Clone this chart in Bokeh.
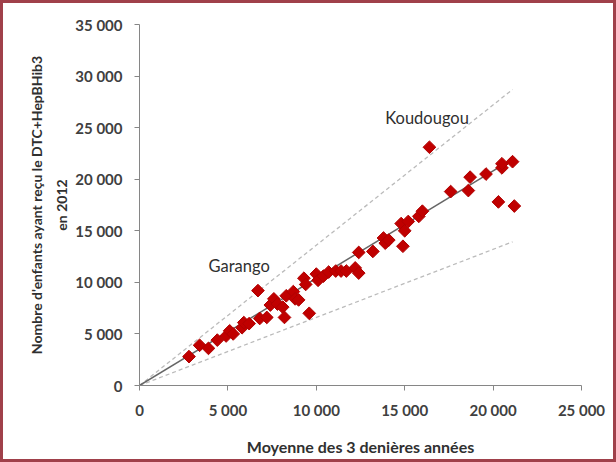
import math
from bokeh.plotting import figure
from bokeh.models import Range1d, FixedTicker, ColumnDataSource, Label
from bokeh.embed import file_html
from bokeh.resources import INLINE

# Data
moyenne = [2800, 3400, 3900, 4400, 4900, 5100, 5300, 5800, 5900, 6200, 6700, 6800,
           7200, 7400, 7600, 7800, 8100, 8200, 8300, 8700, 8800, 9000, 9300, 9400,
           9600, 10000, 10100, 10400, 10700, 11100, 11400, 11700, 12200, 12400, 12400,
           13200, 13800, 13900, 14100, 14800, 14900, 15000, 15200, 15800, 16000, 16400,
           17600, 18600, 18700, 19600, 20300, 20500, 20500, 21100, 21200]
recus_2012 = [2800, 3900, 3600, 4400, 4800, 5300, 5000, 5600, 6100, 6000, 9200, 6500,
              6600, 7800, 8400, 7900, 7600, 6600, 8700, 9100, 8400, 8300, 10400, 9800,
              7000, 10800, 10200, 10600, 11000, 11100, 11100, 11100, 11400, 10900, 12900,
              13000, 14300, 13800, 14100, 15700, 13500, 15000, 15900, 16400, 16900, 23100,
              18800, 18900, 20200, 20500, 17800, 21100, 21500, 21700, 17400]

line_x = [0, 21100]
slope_fit = 1.04
slope_upper = 1.36
slope_lower = 0.66

x_ticks = [0, 5000, 10000, 15000, 20000, 25000]
y_ticks = [0, 5000, 10000, 15000, 20000, 25000, 30000, 35000]

def fmt(v):
    return "{:,}".format(v).replace(",", " ")

FONT = "Lato"
TXT = "#404040"

p = figure(width=616, height=462, output_backend="svg", toolbar_location=None,
           x_range=Range1d(0, 25000), y_range=Range1d(0, 35000),
           min_border_left=136, min_border_right=38, min_border_top=21, min_border_bottom=80)
p.styles = {"border": "3px solid #a0404a"}
p.outline_line_color = None
p.grid.visible = False
p.background_fill_color = "white"
p.border_fill_color = "white"

p.line([line_x[0], line_x[1]], [slope_upper * line_x[0], slope_upper * line_x[1]],
       line_color="#bbbbbb", line_width=1.3, line_dash="4 3")
p.line([line_x[0], line_x[1]], [slope_lower * line_x[0], slope_lower * line_x[1]],
       line_color="#bbbbbb", line_width=1.3, line_dash="4 3")
p.line([line_x[0], line_x[1]], [slope_fit * line_x[0], slope_fit * line_x[1]],
       line_color="#666666", line_width=1.5)

src = ColumnDataSource(dict(x=moyenne, y=recus_2012))
p.scatter("x", "y", source=src, marker="square", size=9, angle=math.pi / 4,
          fill_color="#c00000", line_color="#b00000", line_width=1)

for ax in (p.xaxis[0], p.yaxis[0]):
    ax.axis_line_color = "#868686"
    ax.major_tick_line_color = "#868686"
    ax.major_tick_out = 5
    ax.major_tick_in = 0
    ax.minor_tick_line_color = None
    ax.major_label_text_font = FONT
    ax.major_label_text_font_style = "bold"
    ax.major_label_text_font_size = "15px"
    ax.major_label_text_color = TXT
    ax.axis_label_text_font = FONT
    ax.axis_label_text_font_style = "bold"
    ax.axis_label_text_color = "#303030"

p.xaxis[0].axis_label_text_font_size = "16px"
p.yaxis[0].axis_label_text_font_size = "14px"
p.yaxis[0].axis_label_text_line_height = 1.5
p.xaxis[0].ticker = FixedTicker(ticks=x_ticks)
p.yaxis[0].ticker = FixedTicker(ticks=y_ticks)
p.xaxis[0].major_label_overrides = {t: fmt(t) for t in x_ticks}
p.yaxis[0].major_label_overrides = {t: fmt(t) for t in y_ticks}
p.xaxis[0].major_label_standoff = 10
p.yaxis[0].major_label_standoff = 12
p.xaxis[0].axis_label = "Moyenne des 3 denières années"
p.xaxis[0].axis_label_standoff = 15
p.yaxis[0].axis_label = "Nombre d'enfants ayant reçu le DTC+HepBHib3\nen 2012"
p.yaxis[0].axis_label_standoff = 2

p.add_layout(Label(x=13900, y=25980, text="Koudougou", text_font=FONT,
                   text_font_size="16.5px", text_color="#303030", text_baseline="middle"))
p.add_layout(Label(x=3900, y=11630, text="Garango", text_font=FONT,
                   text_font_size="16.5px", text_color="#303030", text_baseline="middle"))

open("out.html", "w").write(file_html(p, INLINE))
